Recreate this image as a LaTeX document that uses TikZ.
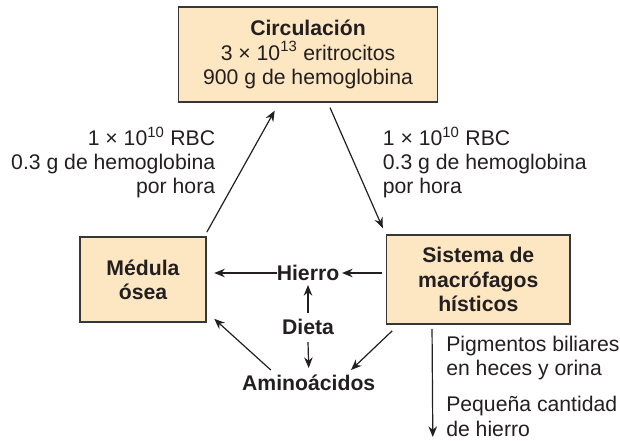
\documentclass[tikz,border=0pt]{standalone}
\usepackage{fontspec}
\setmainfont{Liberation Sans}
\usepackage{xcolor}
\usepackage{tikz}
\usetikzlibrary{arrows.meta,positioning,calc}
\definecolor{boxfill}{RGB}{253,231,194}
\definecolor{boxline}{RGB}{55,55,55}
\definecolor{ink}{RGB}{35,31,32}

\begin{document}
\begin{tikzpicture}[
  x=0.75pt,y=-0.75pt,
  font=\fontsize{15.9}{18.2}\selectfont,
  text=ink,
  organ/.style={draw=boxline,line width=1.2pt,fill=boxfill,align=center,font=\fontsize{15.9}{18.2}\selectfont\bfseries},
  pool/.style={inner sep=0pt,font=\fontsize{15.9}{18.2}\selectfont\bfseries},
  note/.style={inner sep=0pt},
  arr/.style={-{Stealth[length=8pt,width=6.4pt]},line width=0.9pt,draw=ink},
]
\useasboundingbox (0,0) rectangle (620,441);
\node[organ,minimum width=194pt,minimum height=71pt] (circ) at (308,54.5)
  {Circulación\\\mdseries 3 × 10\textsuperscript{13} eritrocitos\\\mdseries 900 g de hemoglobina};
\node[organ,minimum width=94.5pt,minimum height=63.75pt] (med) at (143,279.5) {Médula\\ósea};
\node[organ,minimum width=137.5pt,minimum height=66.75pt] (sis) at (478.3,279.5) {Sistema de\\macrófagos\\hísticos};
\node[pool] (hierro) at (308,273) {Hierro};
\node[pool] (dieta) at (308,327) {Dieta};
\node[pool] (amino) at (308.7,383) {Aminoácidos};
% flow labels
\node[note,anchor=east,align=right] (lbl1) at (215.4,162.5)
  {1 × 10\textsuperscript{10} RBC\\0.3 g de hemoglobina\\por hora};
\node[note,anchor=west,align=left] (lbl2) at (382.6,162.5)
  {1 × 10\textsuperscript{10} RBC\\0.3 g de hemoglobina\\por hora};
\node[note,anchor=west,align=left] (pig) at (446,358) {Pigmentos biliares\\en heces y orina};
\node[note,anchor=west,align=left] (fe) at (446,416.5) {Pequeña cantidad\\de hierro};
\coordinate (salida) at (432.8,437);
% main cycle
\draw[arr] ($(med.north east)+(0,-4)$) -- ($(circ.south)+(-33.3,8)$);
\draw[arr] ($(circ.south)+(22,5)$) -- ($(sis.north west)+(-3,-6)$);
\draw[arr] ($(sis.west)+(-4,-6.5)$) -- ($(hierro.center)+(34,0)$);
\draw[arr] (hierro.west) -- ($(med.east)+(7.4,-6.5)$);
\draw[arr] ($(dieta.center)+(0,-14)$) -- ($(hierro.center)+(0,12)$);
\draw[arr] ($(dieta.center)+(0,15)$) -- ($(amino.center)+(0,-15)$);
\draw[arr] ($(amino.center)+(-37.9,-13)$) -- ($(med.south east)+(7.4,-4)$);
\draw[arr] ($(sis.south west)+(6.4,6)$) -- ($(amino.center)+(42.3,-13)$);
\draw[arr] ($(sis.south west)+(46.2,4)$) -- (salida);
\end{tikzpicture}
\end{document}
